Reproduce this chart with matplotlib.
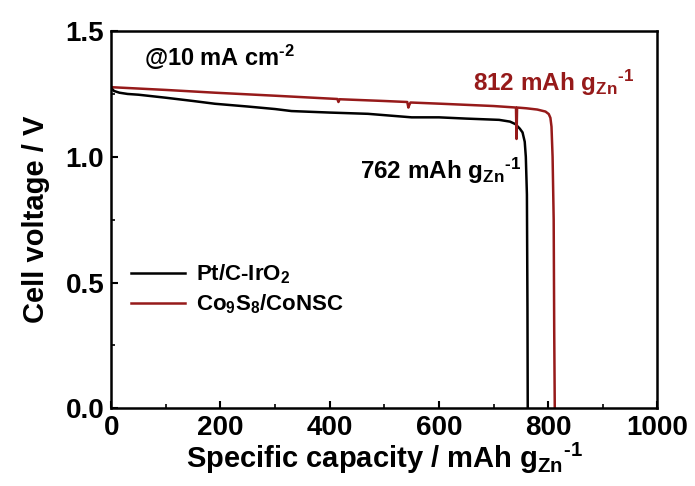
import numpy as np
import matplotlib.pyplot as plt

plt.rcParams['font.family'] = ['Liberation Sans', 'DejaVu Sans']
plt.rcParams['font.weight'] = 'bold'
plt.rcParams['axes.labelweight'] = 'bold'
plt.rcParams['mathtext.fontset'] = 'custom'
plt.rcParams['mathtext.rm'] = 'Liberation Sans:bold'
plt.rcParams['mathtext.it'] = 'Liberation Sans:bold'
plt.rcParams['mathtext.bf'] = 'Liberation Sans:bold'

# discharge curves (capacity in mAh/g_Zn, voltage in V)
cap_pt = [0, 5, 15, 30, 50, 100, 150, 190, 250, 300, 330, 400, 470, 550,
          600, 650, 710, 730, 740, 748, 753, 757, 759, 761, 762, 762.5]
volt_pt = [1.275, 1.262, 1.255, 1.250, 1.247, 1.235, 1.222, 1.211, 1.200, 1.190,
           1.182, 1.176, 1.171, 1.157, 1.157, 1.152, 1.147, 1.140, 1.130, 1.112,
           1.097, 1.06, 1.00, 0.85, 0.40, 0.0]

cap_co = [0, 100, 190, 300, 414, 416, 418, 500, 542, 544, 546, 548, 605,
          700, 741, 742, 743, 760, 780, 795, 801, 804, 806, 808, 810, 811, 812]
volt_co = [1.277, 1.266, 1.255, 1.243, 1.230, 1.218, 1.229, 1.222, 1.218, 1.196,
           1.208, 1.216, 1.211, 1.202, 1.196, 1.071, 1.196, 1.193, 1.188,
           1.180, 1.170, 1.155, 1.12, 1.00, 0.75, 0.30, 0.0]

labels = ['Pt/C-IrO$_2$', 'Co$_9$S$_8$/CoNSC']
dark_red = '#961a1a'
unit = r'mAh g$_{Zn}$$^{\text{-}1}$'

fig = plt.figure(figsize=(6.95, 4.86), dpi=100)
ax = fig.add_axes([0.160, 0.160, 0.786, 0.776])

ax.plot(cap_pt, volt_pt, color='black', lw=1.8, label=labels[0])
ax.plot(cap_co, volt_co, color=dark_red, lw=1.8, label=labels[1])

ax.set_xlim(0, 1000)
ax.set_ylim(0, 1.5)
ax.set_xticks([0, 200, 400, 600, 800, 1000])
ax.set_xticks([100, 300, 500, 700, 900], minor=True)
ax.set_yticks([0.0, 0.5, 1.0, 1.5])
ax.set_yticks([0.25, 0.75, 1.25], minor=True)
ax.yaxis.set_major_formatter(plt.FormatStrFormatter('%.1f'))
ax.tick_params(which='major', direction='in', length=5, width=1.5, labelsize=20)
ax.tick_params(axis='x', which='major', pad=5)
ax.tick_params(axis='y', which='major', pad=5)
ax.tick_params(which='minor', direction='in', length=3, width=1.2)
for s in ax.spines.values():
    s.set_linewidth(1.8)

ax.set_xlabel('Specific capacity / ' + unit, fontsize=21, labelpad=0)
ax.set_ylabel('Cell voltage / V', fontsize=21, labelpad=11)

ax.text(0.06, 0.93, r'@10 mA cm$^{\text{-}2}$', transform=ax.transAxes,
        fontsize=17, va='center', ha='left')
ax.text(663, 1.295, '812 ' + unit, color=dark_red,
        fontsize=17.5, va='center', ha='left')
ax.text(455, 0.945, '762 ' + unit, color='black',
        fontsize=17.5, va='center', ha='left')

ax.legend(loc='upper left', bbox_to_anchor=(0.0, 0.44), frameon=False,
          fontsize=16, handlelength=2.4, handletextpad=0.5, labelspacing=0.3)

fig.savefig('out.png', dpi=100)
